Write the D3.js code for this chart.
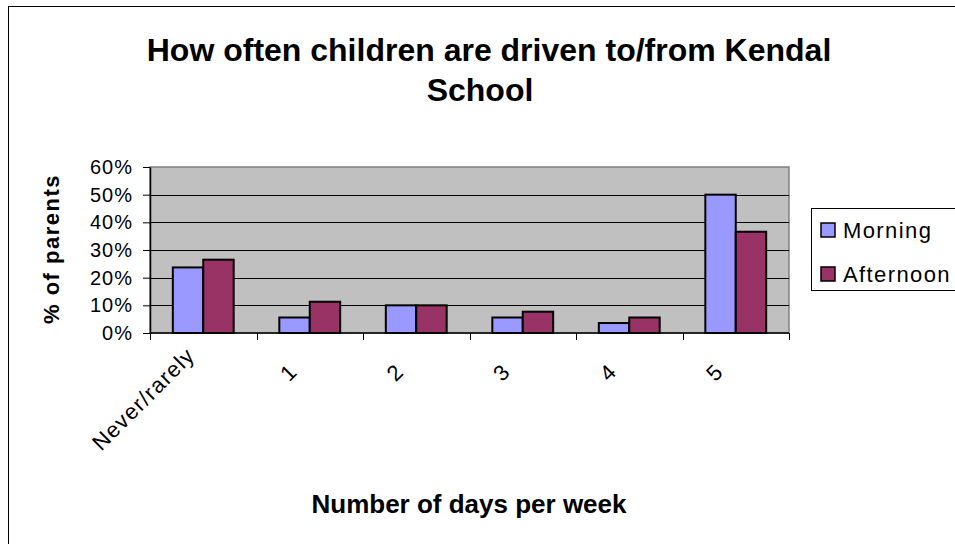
<!DOCTYPE html>
<html>
<head>
<meta charset="utf-8">
<script src="https://cdn.jsdelivr.net/npm/d3@7"></script>
<style>
  body { margin: 0; background: #fff; }
  text { font-family: "Liberation Sans", Arial, sans-serif; }
</style>
</head>
<body>
<div id="chart"></div>
<script>
// Data
var categories = ["Never/rarely", "1", "2", "3", "4", "5"];
var seriesNames = ["Morning", "Afternoon"];
var morning = [0.237, 0.056, 0.10, 0.056, 0.036, 0.50];
var afternoon = [0.265, 0.113, 0.10, 0.077, 0.056, 0.366];
var yTicks = [0, 0.1, 0.2, 0.3, 0.4, 0.5, 0.6];
var colors = ["#9999FF", "#993366"];

var W = 955, H = 544;
var plot = {left: 150, top: 167, right: 789, bottom: 333};

var svg = d3.select("#chart").append("svg")
    .attr("width", W)
    .attr("height", H);

// outer chart border (right / bottom are cut off in the picture)
svg.append("rect")
    .attr("x", 8.5).attr("y", 6.5)
    .attr("width", 980).attr("height", 600)
    .attr("fill", "#fff")
    .attr("stroke", "#000")
    .attr("stroke-width", 1);

// title
var title = svg.append("text")
    .attr("text-anchor", "middle")
    .attr("font-size", "32px")
    .attr("font-weight", "bold");
title.append("tspan").attr("x", 489).attr("y", 61).text("How often children are driven to/from Kendal");
title.append("tspan").attr("x", 480).attr("y", 101).text("School");

var x0 = d3.scaleBand()
    .domain(categories)
    .range([plot.left, plot.right]);

// Excel-style gap width 150%
var barW = x0.bandwidth() / 3.5;
var x1 = d3.scaleBand()
    .domain(seriesNames)
    .range([0, barW * 2]);

var y = d3.scaleLinear()
    .domain([0, 0.6])
    .range([plot.bottom, plot.top]);

// plot background
svg.append("rect")
    .attr("x", plot.left).attr("y", plot.top)
    .attr("width", plot.right - plot.left)
    .attr("height", plot.bottom - plot.top)
    .attr("fill", "#C0C0C0")
    .attr("stroke", "#808080")
    .attr("stroke-width", 1.5);

// gridlines
svg.append("g")
    .selectAll("line")
    .data(yTicks.slice(1, -1))
    .enter()
    .append("line")
    .attr("x1", plot.left).attr("x2", plot.right)
    .attr("y1", function (d) { return Math.round(y(d)) + 0.5; })
    .attr("y2", function (d) { return Math.round(y(d)) + 0.5; })
    .attr("stroke", "#000")
    .attr("stroke-width", 1);

// bars
var rows = categories.map(function (c, i) {
    return {cat: c, vals: [morning[i], afternoon[i]]};
});
var groups = svg.append("g")
    .selectAll("g")
    .data(rows)
    .enter()
    .append("g")
    .attr("transform", function (d) {
        return "translate(" + (x0(d.cat) + barW * 0.75) + ",0)";
    });
groups.selectAll("rect")
    .data(function (d) { return d.vals.map(function (v, j) { return {name: seriesNames[j], v: v, j: j}; }); })
    .enter()
    .append("rect")
    .attr("x", function (d) { return x1(d.name); })
    .attr("y", function (d) { return y(d.v); })
    .attr("width", x1.bandwidth())
    .attr("height", function (d) { return plot.bottom - y(d.v); })
    .attr("fill", function (d) { return colors[d.j]; })
    .attr("stroke", "#000")
    .attr("stroke-width", 2);

// y axis
var yAxis = svg.append("g")
    .attr("transform", "translate(" + plot.left + ",0)")
    .call(d3.axisLeft(y).tickValues(yTicks).tickFormat(d3.format(".0%")).tickSizeInner(7).tickSizeOuter(0).tickPadding(10));
yAxis.select(".domain").attr("stroke", "#000").attr("stroke-width", 1.5);
yAxis.selectAll("line").attr("stroke", "#000");
yAxis.selectAll("text")
    .attr("font-family", "Liberation Sans, Arial, sans-serif")
    .attr("font-size", "20px")
    .attr("letter-spacing", "1px")
    .attr("fill", "#000");

// x axis
var xAxis = svg.append("g")
    .attr("transform", "translate(0," + plot.bottom + ")");
xAxis.append("line")
    .attr("x1", plot.left).attr("x2", plot.right)
    .attr("stroke", "#000").attr("stroke-width", 1.5);
xAxis.selectAll(".tick")
    .data(categories.concat(["end"]))
    .enter()
    .append("line")
    .attr("x1", function (d, i) { return Math.round(plot.left + i * x0.bandwidth()) + 0.5; })
    .attr("x2", function (d, i) { return Math.round(plot.left + i * x0.bandwidth()) + 0.5; })
    .attr("y1", 0).attr("y2", 7)
    .attr("stroke", "#000");
xAxis.selectAll("text")
    .data(categories)
    .enter()
    .append("text")
    .attr("text-anchor", "end")
    .attr("font-size", "22px")
    .attr("letter-spacing", "1.2px")
    .attr("transform", function (d, i) {
        var dx = i === 0 ? -18 : -22;
        var dy = i === 0 ? 13 : 29;
        return "translate(" + (x0(d) + x0.bandwidth() / 2 + dx) + "," + dy + ") rotate(-45)";
    })
    .attr("dy", "0.7em")
    .text(function (d) { return d; });

// axis titles
svg.append("text")
    .attr("text-anchor", "middle")
    .attr("font-size", "26px")
    .attr("font-weight", "bold")
    .attr("x", 469).attr("y", 513)
    .text("Number of days per week");

svg.append("text")
    .attr("text-anchor", "middle")
    .attr("font-size", "22px")
    .attr("font-weight", "bold")
    .attr("letter-spacing", "1.5px")
    .attr("transform", "translate(59,249) rotate(-90)")
    .text("% of parents");

// legend
var legend = svg.append("g");
legend.append("rect")
    .attr("x", 811.5).attr("y", 208.5)
    .attr("width", 160).attr("height", 82)
    .attr("fill", "#fff")
    .attr("stroke", "#000")
    .attr("stroke-width", 1);
var items = legend.selectAll("g.item")
    .data(seriesNames)
    .enter()
    .append("g")
    .attr("transform", function (d, i) { return "translate(821," + (223 + i * 44) + ")"; });
items.append("rect")
    .attr("width", 14).attr("height", 14)
    .attr("fill", function (d, i) { return colors[i]; })
    .attr("stroke", "#000")
    .attr("stroke-width", 1.5);
items.append("text")
    .attr("x", 22).attr("y", 14.5)
    .attr("font-size", "22px")
    .attr("letter-spacing", "1.4px")
    .text(function (d) { return d; });
</script>
</body>
</html>
